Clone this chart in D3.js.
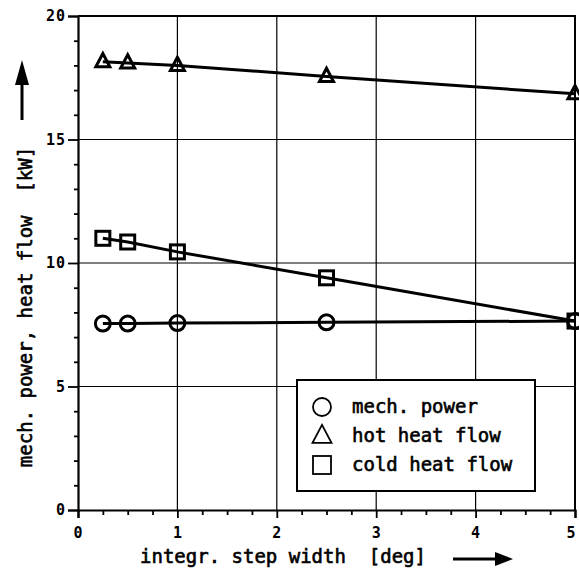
<!DOCTYPE html>
<html><head><meta charset="utf-8">
<script src="https://cdn.jsdelivr.net/npm/d3@7/dist/d3.min.js"></script>
<style>
html,body{margin:0;padding:0;background:#fff;}
svg{display:block;}
text{font-family:"DejaVu Sans Mono",monospace;fill:#000;}
.ttl{stroke:#000;stroke-width:0.6px;}
</style></head>
<body>
<script>
const stepWidth = [0.25, 0.5, 1, 2.5, 5];
const mechPower = [7.55, 7.55, 7.57, 7.6, 7.65];
const hotHeat = [18.15, 18.1, 18.0, 17.55, 16.85];
const coldHeat = [11.0, 10.85, 10.45, 9.4, 7.65];
const xTicks = [0, 1, 2, 3, 4, 5];
const yTicks = [0, 5, 10, 15, 20];
const legendLabels = ["mech. power", "hot heat flow", "cold heat flow"];
const xTitle = "integr. step width\u00a0\u00a0[deg]";
const yTitle = "mech. power, heat flow\u00a0\u00a0[kW]";

const W = 579, H = 571;
const svg = d3.select("body").append("svg").attr("width", W).attr("height", H);
const x = d3.scaleLinear().domain([0, 5]).range([78, 575]);
const y = d3.scaleLinear().domain([0, 20]).range([510, 16]);

// grid
const g = svg.append("g");
g.selectAll(".vg").data(xTicks.slice(1, -1)).enter().append("line")
  .attr("x1", d => x(d)).attr("x2", d => x(d)).attr("y1", y(0)).attr("y2", y(20))
  .attr("stroke", "#000").attr("stroke-width", 1.2);
g.selectAll(".hg").data(yTicks.slice(1, -1)).enter().append("line")
  .attr("x1", x(0)).attr("x2", x(5)).attr("y1", d => y(d)).attr("y2", d => y(d))
  .attr("stroke", "#000").attr("stroke-width", 1.2);

// frame top/right
svg.append("path").attr("d", `M${x(0)},${y(20)}H${x(5)}V${y(0)}`)
  .attr("fill", "none").attr("stroke", "#000").attr("stroke-width", 2);

// axes
const xAxis = d3.axisBottom(x).tickValues(xTicks).tickSize(8).tickFormat(d3.format("d"));
const xMinor = d3.axisBottom(x).tickValues(d3.range(0, 5.01, 0.25).filter(v => v % 1 !== 0)).tickSize(5).tickFormat("");
const ax = svg.append("g").attr("transform", `translate(0,${y(0)})`).call(xAxis);
svg.append("g").attr("transform", `translate(0,${y(0)})`).call(xMinor).select(".domain").remove();
const yAxis = d3.axisLeft(y).tickValues(yTicks).tickSize(10).tickPadding(2).tickFormat(d3.format("d"));
const yMinor = d3.axisLeft(y).tickValues(d3.range(0, 20.01, 1).filter(v => v % 5 !== 0)).tickSize(4).tickFormat("");
const ay = svg.append("g").attr("transform", `translate(${x(0)},0)`).call(yAxis);
svg.append("g").attr("transform", `translate(${x(0)},0)`).call(yMinor).select(".domain").remove();
svg.selectAll(".domain").attr("stroke-width", 2.2).attr("stroke", "#000");
svg.selectAll(".tick line").attr("stroke-width", 1.8).attr("stroke", "#000");
svg.selectAll(".tick text").style("font-family", "'DejaVu Sans Mono', monospace")
  .style("font-size", "15px").style("font-weight", "bold").attr("fill", "#000").style("letter-spacing", "1px");
ax.selectAll(".tick text").attr("dy", "0.71em").attr("y", 17)
  .attr("x", d => d === 5 ? -4 : 0);

// lines
const series = [
  {vals: mechPower, sym: "circle"},
  {vals: hotHeat, sym: "triangle"},
  {vals: coldHeat, sym: "square"}
];
const line = d3.line().x(d => x(d[0])).y(d => y(d[1]));
series.forEach(s => {
  const pts = stepWidth.map((v, i) => [v, s.vals[i]]);
  svg.append("path").attr("d", line(pts)).attr("fill", "none")
    .attr("stroke", "#000").attr("stroke-width", 3);
});

function drawMarker(sel, sym, cx, cy, size, sw) {
  if (sym === "circle") {
    sel.append("circle").attr("cx", cx).attr("cy", cy).attr("r", size / 2)
      .attr("fill", "none").attr("stroke", "#000").attr("stroke-width", sw);
  } else if (sym === "square") {
    sel.append("rect").attr("x", cx - size / 2).attr("y", cy - size / 2)
      .attr("width", size).attr("height", size)
      .attr("fill", "none").attr("stroke", "#000").attr("stroke-width", sw);
  } else {
    const h = size * 0.95;
    sel.append("path")
      .attr("d", `M${cx},${cy - h * 0.62}L${cx + size / 2},${cy + h * 0.38}L${cx - size / 2},${cy + h * 0.38}Z`)
      .attr("fill", "none").attr("stroke", "#000").attr("stroke-width", sw).attr("stroke-linejoin", "miter");
  }
}
series.forEach(s => {
  const mg = svg.append("g");
  stepWidth.forEach((v, i) => drawMarker(mg, s.sym, x(v), y(s.vals[i]), s.sym === "circle" ? 15 : 14, 3));
});

// legend
const lg = svg.append("g");
lg.append("rect").attr("x", 297).attr("y", 380).attr("width", 238).attr("height", 111)
  .attr("fill", "#fff").attr("stroke", "#000").attr("stroke-width", 2);
legendLabels.forEach((t, i) => {
  const cy = 407 + i * 29;
  drawMarker(lg, series[i].sym, 322, cy, i === 1 ? 19 : 18, 1.8);
  lg.append("text").attr("class", "ttl").attr("x", 352).attr("y", cy + 6).text(t)
    .style("font-size", "19px");
});

// x title + arrow
svg.append("text").attr("class", "ttl").attr("x", 140).attr("y", 563).text(xTitle).style("font-size", "19px");
svg.append("line").attr("x1", 453).attr("x2", 497).attr("y1", 559).attr("y2", 559)
  .attr("stroke", "#000").attr("stroke-width", 3);
svg.append("path").attr("d", "M495,552L513,559L495,566Z").attr("fill", "#000");

// y title + arrow
svg.append("text").attr("class", "ttl").attr("transform", "translate(32,307) rotate(-90)")
  .attr("text-anchor", "middle").text(yTitle).style("font-size", "19px");
svg.append("line").attr("x1", 22).attr("x2", 22).attr("y1", 120).attr("y2", 80)
  .attr("stroke", "#000").attr("stroke-width", 3);
svg.append("path").attr("d", "M15,85L22,60L29,85Z").attr("fill", "#000");
</script>
</body></html>
